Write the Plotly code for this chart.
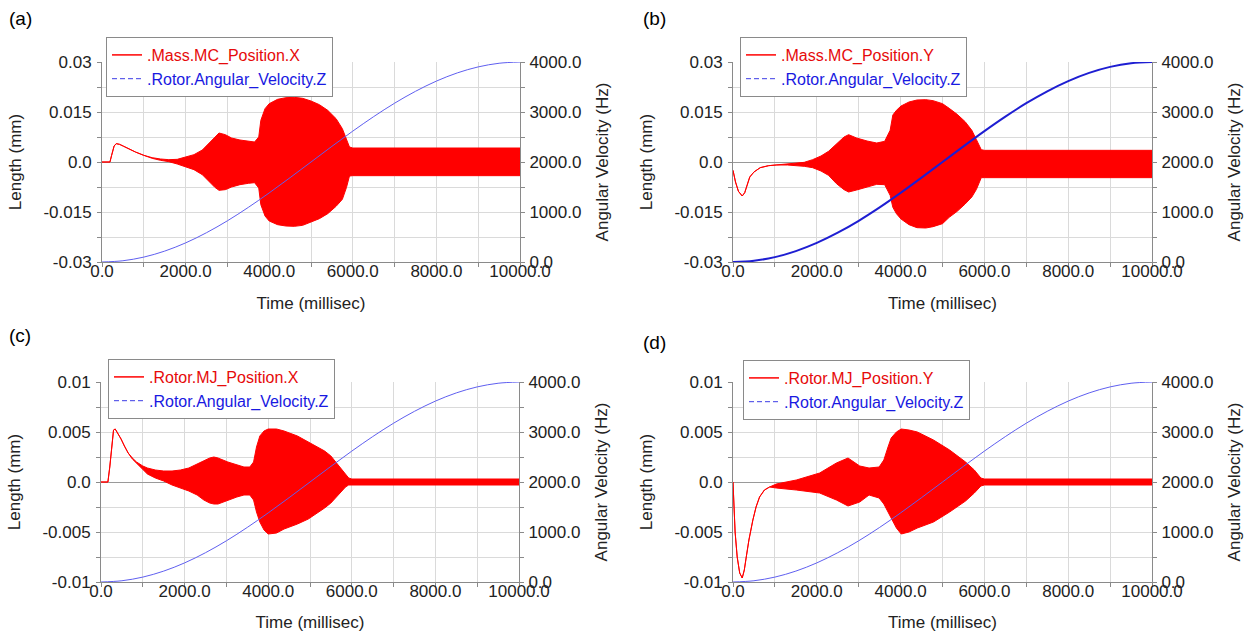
import plotly.graph_objects as go

# ---------------- data ----------------
# Rotor angular velocity (Hz) vs time (ms) - shared by all panels
vel_t = [0, 500, 1000, 1500, 2000, 2500, 3000, 3500, 4000, 4500, 5000,
         5500, 6000, 6500, 7000, 7500, 8000, 8500, 9000, 9500, 10000]
vel_hz = [0, 25, 98, 218, 382, 586, 824, 1092, 1382, 1687, 2000,
          2313, 2618, 2908, 3176, 3414, 3618, 3782, 3902, 3975, 4000]

# (a) Mass.MC_Position.X  envelope (mm)
a_t = [0, 190, 230, 290, 340, 420, 520, 650, 800, 1000, 1200, 1400, 1600, 1800, 2000, 2200,
       2400, 2550, 2700, 2800, 2950, 3100, 3300, 3500, 3650, 3750, 3800, 3900, 4000, 4200,
       4400, 4600, 4800, 5000, 5200, 5400, 5600, 5750, 5850, 5920, 6000, 7000, 8000, 9000,
       10000]
a_up = [0, 0, 0.002, 0.0048, 0.0055, 0.0053, 0.0047, 0.0038, 0.0030, 0.0020, 0.0013, 0.0009,
        0.0007, 0.0008, 0.0014, 0.0022, 0.0036, 0.0055, 0.0076, 0.0087, 0.0082, 0.0072, 0.0066,
        0.0062, 0.0060, 0.0075, 0.0125, 0.0160, 0.0175, 0.0188, 0.0193, 0.0194, 0.0191, 0.0183,
        0.0172, 0.0155, 0.0130, 0.0100, 0.0068, 0.0045, 0.0042, 0.0042, 0.0042, 0.0042, 0.0042]
a_lo = [0, 0, 0.002, 0.0048, 0.0055, 0.0053, 0.0047, 0.0038, 0.0030, 0.0020, 0.0011, 0.0005,
        0.0001, -0.0006, -0.0014, -0.0023, -0.0038, -0.0057, -0.0076, -0.0085, -0.0083, -0.0075,
        -0.0068, -0.0064, -0.0062, -0.0078, -0.0128, -0.0162, -0.0177, -0.0188, -0.0192,
        -0.0193, -0.0190, -0.0180, -0.0170, -0.0155, -0.0133, -0.0112, -0.0076, -0.0042,
        -0.0041, -0.0041, -0.0041, -0.0041, -0.0041]

# (b) Mass.MC_Position.Y
b_t = [0, 60, 130, 220, 280, 330, 400, 500, 650, 850, 1035, 1300, 1515, 1700, 1900, 2100,
       2280, 2470, 2650, 2760, 2950, 3200, 3430, 3620, 3750, 3815, 3900, 4010, 4200, 4390,
       4600, 4775, 5000, 5160, 5350, 5540, 5700, 5810, 5925, 6000, 7000, 8000, 9000, 10000]
b_up = [-0.0025, -0.0060, -0.0088, -0.0102, -0.0092, -0.0070, -0.0045, -0.0030, -0.0017,
        -0.0011, -0.0009, -0.0007, -0.0005, -0.0001, 0.0007, 0.0018, 0.0032, 0.0055, 0.0075,
        0.0082, 0.0072, 0.0063, 0.0057, 0.0062, 0.0095, 0.0141, 0.0155, 0.0168, 0.0180, 0.0186,
        0.0187, 0.0184, 0.0175, 0.0161, 0.0143, 0.0121, 0.0095, 0.0067, 0.0037, 0.0035, 0.0035,
        0.0035, 0.0035, 0.0035]
b_lo = [-0.0025, -0.0060, -0.0088, -0.0102, -0.0092, -0.0070, -0.0045, -0.0030, -0.0017,
        -0.0011, -0.0009, -0.0009, -0.0010, -0.0013, -0.0017, -0.0027, -0.0040, -0.0065,
        -0.0083, -0.0090, -0.0084, -0.0074, -0.0067, -0.0068, -0.0100, -0.0136, -0.0155,
        -0.0171, -0.0188, -0.0197, -0.0198, -0.0194, -0.0185, -0.0166, -0.0148, -0.0126,
        -0.0105, -0.0082, -0.0047, -0.0047, -0.0047, -0.0047, -0.0047, -0.0047]

# (c) Rotor.MJ_Position.X
c_t = [0, 165, 210, 260, 300, 340, 400, 480, 560, 650, 750, 850, 1000, 1110, 1300, 1500,
       1700, 1900, 2100, 2300, 2460, 2600, 2700, 2800, 3035, 3250, 3420, 3560, 3650, 3720,
       3800, 3900, 4000, 4200, 4380, 4700, 4960, 5150, 5350, 5500, 5640, 5750, 5850, 5925,
       6000, 7000, 8000, 9000, 10000]
c_up = [0, 0, 0.0015, 0.0040, 0.0052, 0.0053, 0.0049, 0.0043, 0.0036, 0.0029, 0.0024, 0.0020,
        0.0016, 0.0014, 0.0012, 0.0011, 0.0011, 0.0012, 0.0014, 0.0018, 0.0022, 0.0024, 0.0025,
        0.0024, 0.0020, 0.0017, 0.0015, 0.0015, 0.0020, 0.0035, 0.0046, 0.0051, 0.0053, 0.0053,
        0.0051, 0.0046, 0.0040, 0.0036, 0.0031, 0.0026, 0.0019, 0.0013, 0.0008, 0.0004, 0.0003,
        0.0003, 0.0003, 0.0003, 0.0003]
c_lo = [0, 0, 0.0015, 0.0040, 0.0052, 0.0053, 0.0049, 0.0043, 0.0036, 0.0029, 0.0023, 0.0019,
        0.0012, 0.0008, 0.0004, 0.0001, -0.0003, -0.0006, -0.0009, -0.0013, -0.0018, -0.0021,
        -0.0022, -0.0022, -0.0018, -0.0015, -0.0013, -0.0013, -0.0018, -0.0030, -0.0040,
        -0.0048, -0.0052, -0.0051, -0.0047, -0.0042, -0.0037, -0.0032, -0.0026, -0.0021,
        -0.0015, -0.0010, -0.0005, -0.0003, -0.0003, -0.0003, -0.0003, -0.0003, -0.0003]

# (d) Rotor.MJ_Position.Y
d_t = [0, 15, 50, 100, 160, 220, 270, 320, 380, 474, 550, 634, 750, 873, 1033, 1512, 2068,
       2468, 2745, 3025, 3247, 3487, 3600, 3700, 3775, 3900, 4015, 4200, 4400, 4785, 5170,
       5550, 5760, 5915, 6000, 7000, 8000, 9000, 10000]
d_up = [0, -0.0020, -0.0050, -0.0075, -0.0091, -0.0096, -0.0088, -0.0074, -0.0058, -0.0038,
        -0.0025, -0.0015, -0.0008, -0.0005, -0.0002, 0.0002, 0.0009, 0.0019, 0.0024, 0.0016,
        0.0014, 0.0015, 0.0022, 0.0035, 0.0044, 0.0050, 0.0053, 0.0052, 0.0050, 0.0042, 0.0032,
        0.0020, 0.0012, 0.0004, 0.0003, 0.0003, 0.0003, 0.0003, 0.0003]
d_lo = [0, -0.0020, -0.0050, -0.0075, -0.0091, -0.0096, -0.0088, -0.0074, -0.0058, -0.0038,
        -0.0025, -0.0015, -0.0008, -0.0005, -0.0006, -0.0008, -0.0011, -0.0018, -0.0024,
        -0.0020, -0.0013, -0.0016, -0.0022, -0.0030, -0.0036, -0.0046, -0.0052, -0.0050,
        -0.0046, -0.0040, -0.0030, -0.0019, -0.0011, -0.0004, -0.0003, -0.0003, -0.0003,
        -0.0003, -0.0003]

x_ticks = [0, 1000, 2000, 3000, 4000, 5000, 6000, 7000, 8000, 9000, 10000]
x_text = ["0.0", "", "2000.0", "", "4000.0", "", "6000.0", "", "8000.0", "", "10000.0"]
yr_ticks = [0, 500, 1000, 1500, 2000, 2500, 3000, 3500, 4000]
yr_text = ["0.0", "", "1000.0", "", "2000.0", "", "3000.0", "", "4000.0"]
yl_ticks_big = [-0.03, -0.0225, -0.015, -0.0075, 0, 0.0075, 0.015, 0.0225, 0.03]
yl_text_big = ["-0.03", "", "-0.015", "", "0.0", "", "0.015", "", "0.03"]
yl_ticks_small = [-0.01, -0.0075, -0.005, -0.0025, 0, 0.0025, 0.005, 0.0075, 0.01]
yl_text_small = ["-0.01", "", "-0.005", "", "0.0", "", "0.005", "", "0.01"]

panels = [
    dict(label="(a)", name=".Mass.MC_Position.X", t=a_t, up=a_up, lo=a_lo,
         yt=yl_ticks_big, ytx=yl_text_big, yr=0.03, thick=False),
    dict(label="(b)", name=".Mass.MC_Position.Y", t=b_t, up=b_up, lo=b_lo,
         yt=yl_ticks_big, ytx=yl_text_big, yr=0.03, thick=True),
    dict(label="(c)", name=".Rotor.MJ_Position.X", t=c_t, up=c_up, lo=c_lo,
         yt=yl_ticks_small, ytx=yl_text_small, yr=0.01, thick=False),
    dict(label="(d)", name=".Rotor.MJ_Position.Y", t=d_t, up=d_up, lo=d_lo,
         yt=yl_ticks_small, ytx=yl_text_small, yr=0.01, thick=False),
]

# ---------------- layout geometry (pixels) ----------------
W, H = 1258, 632
geo = [
    dict(x=(102, 520), y=(62, 262), leg=(106, 37), lab=(20, 18)),
    dict(x=(733, 1152), y=(62, 262), leg=(740, 37), lab=(654, 18)),
    dict(x=(101, 519), y=(382, 582), leg=(108, 359), lab=(20, 335)),
    dict(x=(733, 1152), y=(382, 582), leg=(743, 360), lab=(654, 342)),
]

FONT = "Liberation Sans, Arial, sans-serif"
RED = "rgb(255,0,0)"
RED_TXT = "rgb(230,10,10)"
BLUE_TXT = "rgb(25,25,225)"
AXIS = "#8a8a8a"
GRID = "#dadada"
TICKC = "#222222"

fig = go.Figure()
layout = dict(
    template="none",
    width=W, height=H, margin=dict(l=0, r=0, t=0, b=0, autoexpand=False),
    paper_bgcolor="white", plot_bgcolor="white",
    font=dict(family=FONT, size=17, color=TICKC),
    showlegend=True, annotations=[],
)

for i, (p, g) in enumerate(zip(panels, geo)):
    n = i + 1
    xa = "x" if n == 1 else f"x{n}"
    yl_n = 2 * i + 1
    yr_n = 2 * i + 2
    yl = "y" if yl_n == 1 else f"y{yl_n}"
    yr = f"y{yr_n}"
    leg = "legend" if n == 1 else f"legend{n}"

    # red envelope (upper line + lower filled to it)
    fig.add_trace(go.Scatter(
        x=p["t"], y=p["up"], mode="lines", xaxis=xa, yaxis=yl,
        line=dict(color=RED, width=1), showlegend=False, name=p["name"]))
    fig.add_trace(go.Scatter(
        x=p["t"], y=p["lo"], mode="lines", xaxis=xa, yaxis=yl,
        line=dict(color=RED, width=1), fill="tonexty", fillcolor=RED,
        showlegend=False, name=p["name"]))
    # blue angular velocity on the right axis
    bcol = "rgb(30,30,210)" if p["thick"] else "rgb(95,95,240)"
    bw = 2 if p["thick"] else 1
    fig.add_trace(go.Scatter(
        x=vel_t, y=vel_hz, mode="lines", line=dict(color=bcol, width=bw, shape="spline"),
        xaxis=xa, yaxis=yr, showlegend=False, name=".Rotor.Angular_Velocity.Z"))
    # legend entries (symbols as in the reference)
    fig.add_trace(go.Scatter(
        x=[None], y=[None], mode="lines", xaxis=xa, yaxis=yl,
        line=dict(color=RED, width=1.5), legend=leg, showlegend=True,
        name=f'<span style="color:{RED_TXT}">{p["name"]}</span>'))
    fig.add_trace(go.Scatter(
        x=[None], y=[None], mode="lines", xaxis=xa, yaxis=yr,
        line=dict(color="rgb(60,60,230)", width=1, dash="5px,3px"),
        legend=leg, showlegend=True,
        name=f'<span style="color:{BLUE_TXT}">.Rotor.Angular_Velocity.Z</span>'))

    x0, x1 = g["x"]
    ytop, ybot = g["y"]
    xdom = [x0 / W, x1 / W]
    ydom = [1 - ybot / H, 1 - ytop / H]

    layout["xaxis" if n == 1 else f"xaxis{n}"] = dict(
        domain=xdom, anchor=yl, range=[0, 10000], automargin=False,
        tickvals=x_ticks, ticktext=x_text, ticks="outside", ticklen=4, tickcolor=AXIS,
        ticklabelstandoff=-10,
        showgrid=True, gridcolor=GRID, gridwidth=1, zeroline=False,
        showline=True, linecolor=AXIS, linewidth=1,
        tickfont=dict(size=17, color=TICKC),
        title=dict(text="Time (millisec)", font=dict(size=17, color=TICKC), standoff=16),
    )
    layout["yaxis" if yl_n == 1 else f"yaxis{yl_n}"] = dict(
        domain=ydom, anchor=xa, range=[-p["yr"], p["yr"]], automargin=False,
        tickvals=p["yt"], ticktext=p["ytx"], ticks="outside", ticklen=4, tickcolor=AXIS,
        ticklabelstandoff=2,
        showgrid=True, gridcolor=GRID, gridwidth=1,
        zeroline=True, zerolinecolor="#9a9a9a", zerolinewidth=1,
        showline=True, linecolor=AXIS, linewidth=1,
        tickfont=dict(size=17, color=TICKC),
        title=dict(text="Length (mm)", font=dict(size=17, color=TICKC), standoff=17),
    )
    layout[f"yaxis{yr_n}"] = dict(
        domain=ydom, anchor=xa, overlaying=yl, side="right", range=[0, 4000],
        automargin=False,
        tickvals=yr_ticks, ticktext=yr_text, ticks="outside", ticklen=4, tickcolor=AXIS,
        ticklabelstandoff=1,
        showgrid=False, zeroline=False,
        showline=True, linecolor=AXIS, linewidth=1,
        tickfont=dict(size=17, color=TICKC),
        title=dict(text="Angular Velocity (Hz)", font=dict(size=17, color=TICKC), standoff=15),
    )
    lx, ly = g["leg"]
    layout[leg] = dict(
        x=lx / W, y=1 - ly / H, xanchor="left", yanchor="top", xref="paper", yref="paper",
        bgcolor="white", bordercolor=AXIS, borderwidth=1, traceorder="normal",
        font=dict(family=FONT, size=16), itemwidth=30, tracegroupgap=0,
    )
    ax, ay = g["lab"]
    layout["annotations"].append(dict(
        text=p["label"], x=ax / W, y=1 - ay / H, xref="paper", yref="paper",
        xanchor="center", yanchor="middle", showarrow=False,
        font=dict(family=FONT, size=19, color="black")))

fig.update_layout(**layout)
fig.write_html("out.html")
